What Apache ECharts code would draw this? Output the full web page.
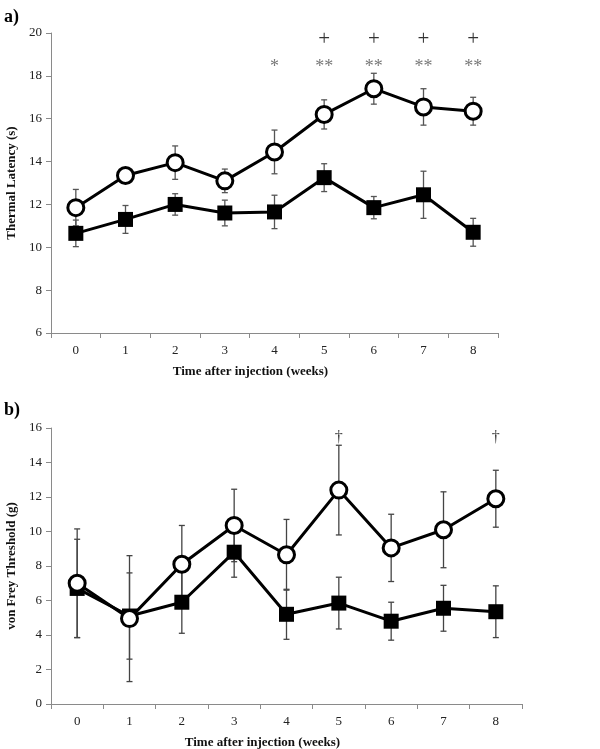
<!DOCTYPE html>
<html>
<head>
<meta charset="utf-8">
<script src="https://cdn.jsdelivr.net/npm/echarts@6/dist/echarts.min.js"></script>
<style>html,body{margin:0;padding:0;background:#fff}#c{width:600px;height:749px}</style>
</head>
<body>
<div id="c"></div>
<script>
const weeks = ['0','1','2','3','4','5','6','7','8'];
const yTicksA = [6, 20, 2];
const yTicksB = [0, 16, 2];

// Panel a) Thermal latency
const thermalOpen = [11.85, 13.35, 13.95, 13.1, 14.45, 16.2, 17.4, 16.55, 16.35];
const thermalOpenErr = [0.85, 0.1, 0.78, 0.55, 1.02, 0.68, 0.72, 0.85, 0.65];
const thermalSq = [10.65, 11.3, 12.0, 11.6, 11.65, 13.25, 11.85, 12.45, 10.7];
const thermalSqErr = [0.62, 0.65, 0.5, 0.6, 0.78, 0.65, 0.52, 1.1, 0.65];
const starA = ['', '', '', '', '*', '**', '**', '**', '**'];
const plusA = ['', '', '', '', '', '+', '+', '+', '+'];

// Panel b) von Frey threshold
const freyOpen = [7.0, 4.95, 8.1, 10.35, 8.65, 12.4, 9.05, 10.1, 11.9];
const freyOpenErr = [3.15, 3.65, 2.25, 2.1, 2.05, 2.6, 1.95, 2.2, 1.65];
const freySq = [6.7, 5.1, 5.9, 8.8, 5.2, 5.85, 4.8, 5.55, 5.35];
const freySqErr = [2.85, 2.5, 1.8, 1.45, 1.45, 1.5, 1.1, 1.33, 1.5];
const daggerB = ['', '', '', '', '', '\u2020', '', '', '\u2020'];

const FONT = 'Liberation Serif';
const chart = echarts.init(document.getElementById('c'), null, {renderer: 'canvas'});

function errData(vals, errs) {
  return vals.map((v, i) => [i, v - errs[i], v + errs[i]]);
}
function errRender(color) {
  return function (params, api) {
    const x = api.value(0);
    const lo = api.coord([x, api.value(1)]);
    const hi = api.coord([x, api.value(2)]);
    const w = 3;
    const st = {stroke: color, lineWidth: 1.3};
    return {type: 'group', children: [
      {type: 'line', shape: {x1: lo[0], y1: lo[1], x2: hi[0], y2: hi[1]}, style: st},
      {type: 'line', shape: {x1: lo[0] - w, y1: lo[1], x2: lo[0] + w, y2: lo[1]}, style: st},
      {type: 'line', shape: {x1: hi[0] - w, y1: hi[1], x2: hi[0] + w, y2: hi[1]}, style: st}
    ]};
  };
}
function labelData(labels, level) {
  return labels.map((t, i) => t ? {value: [i, level], label: {formatter: t}} : null).filter(d => d);
}
function xAxisCfg(gi) {
  return {
    type: 'category', gridIndex: gi, data: weeks, boundaryGap: true,
    axisLine: {lineStyle: {color: '#8a8a8a', width: 1}},
    axisTick: {show: true, length: 5, lineStyle: {color: '#8a8a8a'}},
    axisLabel: {color: '#222', fontFamily: FONT, fontSize: 13, margin: 11},
    name: 'Time after injection (weeks)', nameLocation: 'middle', nameGap: 32,
    nameTextStyle: {color: '#111', fontFamily: FONT, fontSize: 13, fontWeight: 'bold', padding: [0, 48, 0, 0]}
  };
}
function yAxisCfg(gi, ticks, name) {
  return {
    type: 'value', gridIndex: gi, min: ticks[0], max: ticks[1], interval: ticks[2],
    axisLine: {show: true, lineStyle: {color: '#8a8a8a', width: 1}},
    axisTick: {show: true, length: 5, lineStyle: {color: '#8a8a8a'}},
    splitLine: {show: false},
    axisLabel: {color: '#222', fontFamily: FONT, fontSize: 13, margin: 9},
    name: name, nameLocation: 'middle', nameGap: 33, nameRotate: 90,
    nameTextStyle: {color: '#111', fontFamily: FONT, fontSize: 13, fontWeight: 'bold'}
  };
}
function lineSeries(gi, data, open) {
  return {
    type: 'line', xAxisIndex: gi, yAxisIndex: gi, data: data, z: 3,
    symbol: open ? 'circle' : 'rect', symbolSize: open ? 16 : 15,
    lineStyle: {color: '#000', width: 3},
    itemStyle: open ? {color: '#fff', borderColor: '#000', borderWidth: 3} : {color: '#000', borderWidth: 0},
    emphasis: {disabled: true}, animation: false
  };
}
function errSeries(gi, vals, errs, color) {
  return {
    type: 'custom', xAxisIndex: gi, yAxisIndex: gi, z: 1,
    renderItem: errRender(color), data: errData(vals, errs),
    encode: {x: 0, y: [1, 2]}, animation: false
  };
}
function textSeries(gi, labels, level, size, color) {
  return {
    type: 'scatter', xAxisIndex: gi, yAxisIndex: gi, symbolSize: 0, z: 4,
    data: labelData(labels, level),
    label: {show: true, position: 'inside', color: color, fontFamily: FONT, fontSize: size},
    emphasis: {disabled: true}, animation: false
  };
}

chart.setOption({
  animation: false,
  backgroundColor: '#fff',
  title: [
    {text: 'a)', left: -1, top: 3, textStyle: {fontFamily: FONT, fontSize: 18, fontWeight: 'bold', color: '#000'}},
    {text: 'b)', left: -1, top: 396, textStyle: {fontFamily: FONT, fontSize: 18, fontWeight: 'bold', color: '#000'}}
  ],
  grid: [
    {left: 51, top: 33, width: 447, height: 300, containLabel: false, outerBoundsMode: 'none'},
    {left: 51, top: 428, width: 471, height: 276, containLabel: false, outerBoundsMode: 'none'}
  ],
  xAxis: [xAxisCfg(0), xAxisCfg(1)],
  yAxis: [yAxisCfg(0, yTicksA, 'Thermal Latency (s)'), yAxisCfg(1, yTicksB, 'von Frey Threshold (g)')],
  series: [
    errSeries(0, thermalSq, thermalSqErr, '#555'),
    errSeries(0, thermalOpen, thermalOpenErr, '#555'),
    lineSeries(0, thermalSq, false),
    lineSeries(0, thermalOpen, true),
    textSeries(0, starA, 18.4, 18, '#555'),
    textSeries(0, plusA, 19.7, 21, '#000'),
    errSeries(1, freySq, freySqErr, '#444'),
    errSeries(1, freyOpen, freyOpenErr, '#444'),
    lineSeries(1, freySq, false),
    lineSeries(1, freyOpen, true),
    textSeries(1, daggerB, 15.45, 16, '#000')
  ]
});
</script>
</body>
</html>
